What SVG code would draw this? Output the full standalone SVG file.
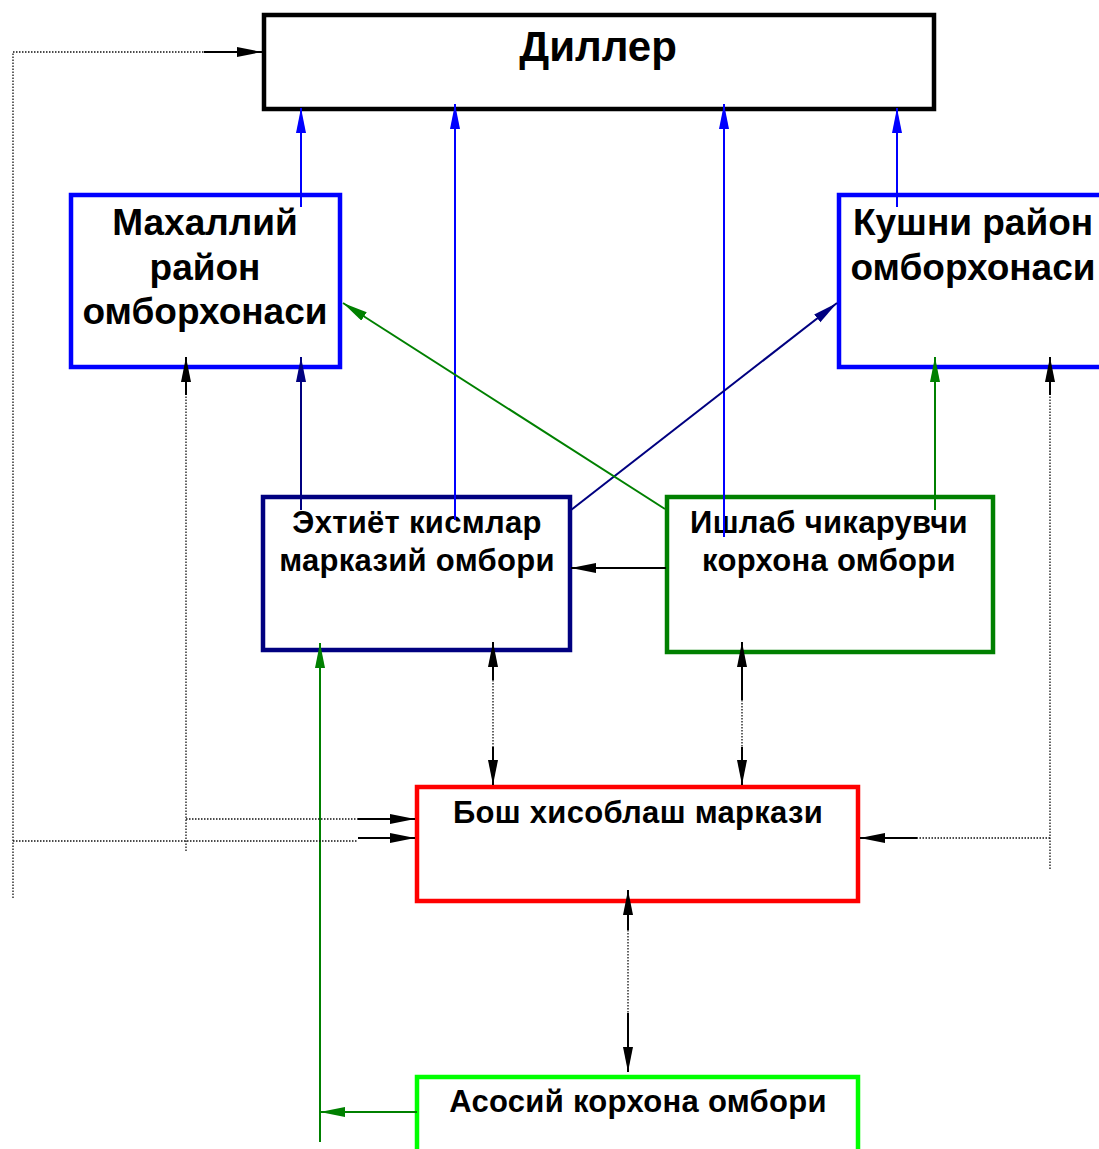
<svg xmlns="http://www.w3.org/2000/svg" width="1099" height="1149" viewBox="0 0 1099 1149">
<style>
.box{fill:#fff;stroke-width:4.5}
.t{font-family:"Liberation Sans",Arial,sans-serif;font-weight:bold;fill:#000;text-anchor:middle}
.big{font-size:42px}
.mid{font-size:37px}
.sm{font-size:31px;letter-spacing:0.3px}
.c{fill:none;stroke-width:2}
.dot{fill:none;stroke:#111;stroke-width:1.3;stroke-dasharray:1.5 1.5}
</style>
<defs>
<marker id="ak" markerUnits="userSpaceOnUse" markerWidth="26" markerHeight="12" refX="25" refY="5" orient="auto-start-reverse"><path d="M0,0 L25,5 L0,10 z" fill="#000"/></marker>
<marker id="ab" markerUnits="userSpaceOnUse" markerWidth="26" markerHeight="12" refX="25" refY="5" orient="auto"><path d="M0,0 L25,5 L0,10 z" fill="#0000ff"/></marker>
<marker id="an" markerUnits="userSpaceOnUse" markerWidth="26" markerHeight="12" refX="25" refY="5" orient="auto"><path d="M0,0 L25,5 L0,10 z" fill="#000080"/></marker>
<marker id="ag" markerUnits="userSpaceOnUse" markerWidth="26" markerHeight="12" refX="25" refY="5" orient="auto"><path d="M0,0 L25,5 L0,10 z" fill="#008000"/></marker>
</defs>
<rect width="1099" height="1149" fill="#fff"/>
<g id="diller"><rect class="box" x="264" y="15" width="670" height="94" stroke="#000"/><text class="t big" x="598" y="61">Диллер</text></g>
<g id="mahalliy"><rect class="box" x="71" y="195" width="269" height="172" stroke="#0000ff"/><text class="t mid" x="205" y="235">Махаллий</text><text class="t mid" x="205" y="280">район</text><text class="t mid" x="205" y="324">омборхонаси</text></g>
<g id="kushni"><rect class="box" x="839" y="195" width="280" height="172" stroke="#0000ff"/><text class="t mid" x="973" y="235">Кушни район</text><text class="t mid" x="973" y="280">омборхонаси</text></g>
<g id="ehtiyot"><rect class="box" x="263" y="497" width="307" height="153" stroke="#000080"/><text class="t sm" x="417" y="533">Эхтиёт кисмлар</text><text class="t sm" x="417" y="571">марказий омбори</text></g>
<g id="ishlab"><rect class="box" x="667" y="497" width="326" height="155" stroke="#008000"/><text class="t sm" x="829" y="533">Ишлаб чикарувчи</text><text class="t sm" x="829" y="571">корхона омбори</text></g>
<g id="bosh"><rect class="box" x="417" y="787" width="441" height="114" stroke="#ff0000"/><text class="t sm" x="638" y="823">Бош хисоблаш маркази</text></g>
<g id="asosiy"><rect class="box" x="417" y="1077" width="441" height="100" stroke="#00ff00"/><text class="t sm" x="638" y="1112">Асосий корхона омбори</text></g>
<g id="connectors">
<line class="c" stroke="#0000ff" x1="301" y1="207" x2="301" y2="108" marker-end="url(#ab)"/>
<line class="c" stroke="#0000ff" x1="455" y1="520" x2="455" y2="104" marker-end="url(#ab)"/>
<line class="c" stroke="#0000ff" x1="724" y1="537" x2="724" y2="104" marker-end="url(#ab)"/>
<line class="c" stroke="#0000ff" x1="897" y1="207" x2="897" y2="108" marker-end="url(#ab)"/>
<line class="c" stroke="#000080" x1="301" y1="510" x2="301" y2="357" marker-end="url(#an)"/>
<line class="c" stroke="#000080" x1="571" y1="510" x2="837" y2="303" marker-end="url(#an)"/>
<line class="c" stroke="#008000" x1="665" y1="509" x2="343" y2="303" marker-end="url(#ag)"/>
<line class="c" stroke="#008000" x1="935" y1="510" x2="935" y2="357" marker-end="url(#ag)"/>
<line class="c" stroke="#008000" x1="320" y1="1142" x2="320" y2="643" marker-end="url(#ag)"/>
<line class="c" stroke="#008000" x1="417" y1="1112" x2="320" y2="1112" marker-end="url(#ag)"/>
<line class="c" stroke="#000" x1="666" y1="568" x2="571" y2="568" marker-end="url(#ak)"/>
<path class="dot" d="M13,898 V52 H204"/>
<line class="c" stroke="#000" x1="204" y1="52" x2="262" y2="52" marker-end="url(#ak)"/>
<path class="dot" d="M186,851 V395"/>
<line class="c" stroke="#000" x1="186" y1="395" x2="186" y2="357" marker-end="url(#ak)"/>
<path class="dot" d="M1050,869 V395"/>
<line class="c" stroke="#000" x1="1050" y1="395" x2="1050" y2="357" marker-end="url(#ak)"/>
<path class="dot" d="M186,819 H358"/>
<line class="c" stroke="#000" x1="358" y1="819" x2="415" y2="819" marker-end="url(#ak)"/>
<path class="dot" d="M13,841 H358"/>
<line class="c" stroke="#000" x1="358" y1="838" x2="415" y2="838" marker-end="url(#ak)"/>
<path class="dot" d="M1050,838 H917"/>
<line class="c" stroke="#000" x1="917" y1="838" x2="860" y2="838" marker-end="url(#ak)"/>
<path class="dot" d="M493,680 V747"/>
<line class="c" stroke="#000" x1="493" y1="680" x2="493" y2="642" marker-end="url(#ak)"/>
<line class="c" stroke="#000" x1="493" y1="747" x2="493" y2="785" marker-end="url(#ak)"/>
<path class="dot" d="M742,700 V747"/>
<line class="c" stroke="#000" x1="742" y1="700" x2="742" y2="642" marker-end="url(#ak)"/>
<line class="c" stroke="#000" x1="742" y1="747" x2="742" y2="785" marker-end="url(#ak)"/>
<path class="dot" d="M628,930 V1013"/>
<line class="c" stroke="#000" x1="628" y1="930" x2="628" y2="890" marker-end="url(#ak)"/>
<line class="c" stroke="#000" x1="628" y1="1013" x2="628" y2="1072" marker-end="url(#ak)"/>
</g>
</svg>
